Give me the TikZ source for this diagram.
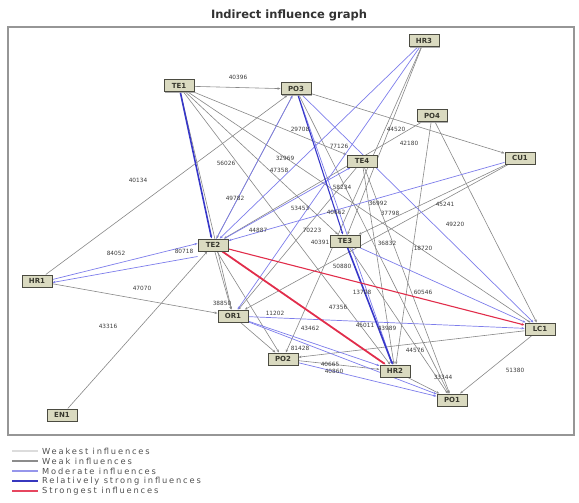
\documentclass[tikz,border=0pt]{standalone}
\usepackage{fontspec}
\setmainfont{DejaVu Sans}
\newfontfamily\legfont[LetterSpace=22]{DejaVu Sans}
\usetikzlibrary{shadows,arrows.meta}
\pgfdeclarelayer{bg}
\pgfsetlayers{bg,main}
\definecolor{nodeborder}{RGB}{75,75,65}
\definecolor{nodefill}{RGB}{218,218,192}
\definecolor{nodetext}{RGB}{55,55,45}
\definecolor{lbltext}{RGB}{60,60,60}
\definecolor{titletext}{RGB}{50,50,50}
\definecolor{framec}{RGB}{150,150,150}
\definecolor{weakc}{RGB}{135,135,135}
\definecolor{moderc}{RGB}{125,125,235}
\definecolor{rstrongc}{RGB}{55,55,200}
\definecolor{strongestc}{RGB}{225,45,75}
\definecolor{legweakest}{RGB}{220,220,220}
\definecolor{legweak}{RGB}{140,140,140}
\definecolor{legmoder}{RGB}{150,150,235}
\definecolor{legrstrong}{RGB}{55,55,190}
\definecolor{legstrongest}{RGB}{230,70,95}
\definecolor{legtextc}{RGB}{80,80,80}
\begin{document}
\begin{tikzpicture}[x=1pt,y=-1pt,
 vnode/.style={draw=nodeborder, line width=1pt, fill=nodefill,
   font=\bfseries\fontsize{7}{7}\selectfont, text=nodetext,
   minimum width=30pt, minimum height=12pt, inner sep=1pt,
   drop shadow={shadow xshift=1.3pt, shadow yshift=-1.3pt, fill=gray!80, opacity=0.8}},
 lbl/.style={font=\fontsize{5.8}{6}\selectfont, text=lbltext, inner sep=0.5pt},
 tip/.style={-{Stealth[length=3pt,width=2.4pt]}},
 weak/.style={tip, draw=weakc, line width=0.6pt},
 moder/.style={tip, draw=moderc, line width=0.7pt},
 rstrong/.style={tip, draw=rstrongc, line width=1.6pt},
 strongest/.style={tip, draw=strongestc, line width=1.1pt},
 legline/.style={line width=1.2pt},
 legtext/.style={anchor=west, font=\legfont\fontsize{8.3}{8.5}\selectfont, text=legtextc, inner sep=0pt},
]
\useasboundingbox (0,0) rectangle (579,503);

% title and frame
\node[font=\bfseries\fontsize{11.5}{12}\selectfont, text=titletext] (title) at (289,15) {Indirect influence graph};
\draw[draw=framec, line width=1.3pt] (8,27) rectangle (574,435);

% variables
\node[vnode] (TE1) at (179,86) {TE1};
\node[vnode] (PO3) at (296,89) {PO3};
\node[vnode] (HR3) at (424,41) {HR3};
\node[vnode] (PO4) at (432,116) {PO4};
\node[vnode] (CU1) at (520,158) {CU1};
\node[vnode] (TE4) at (362,161) {TE4};
\node[vnode] (TE3) at (345,241) {TE3};
\node[vnode] (TE2) at (213,245) {TE2};
\node[vnode] (HR1) at (37,281) {HR1};
\node[vnode] (OR1) at (233,316) {OR1};
\node[vnode] (PO2) at (283,359) {PO2};
\node[vnode] (EN1) at (62,415) {EN1};
\node[vnode] (LC1) at (540,329) {LC1};
\node[vnode] (HR2) at (395,371) {HR2};
\node[vnode] (PO1) at (452,400) {PO1};

\begin{pgfonlayer}{bg}
% weak influences
\draw[weak] (TE1) -- (PO3);
\draw[weak] (TE1) -- (TE3);
\draw[weak] (TE1) -- (HR2);
\draw[weak] (TE1) -- (LC1);
\draw[weak] (TE1) -- (TE4);
\draw[weak] (PO3) -- (TE2);
\draw[weak] (HR1) -- (PO3);
\draw[weak] (PO3) -- (CU1);
\draw[weak] (PO3) -- (PO1);
\draw[weak] (HR1) -- (OR1);
\draw[weak] (EN1) -- (TE2);
\draw[weak] (HR3) -- (TE3);
\draw[weak] (HR3) -- (PO2);
\draw[weak] (PO4) -- (HR2);
\draw[weak] (PO4) -- (LC1);
\draw[weak] (PO4) -- (TE2);
\draw[weak] (CU1) -- (OR1);
\draw[weak] (CU1) -- (TE3);
\draw[weak] (LC1) -- (PO1);
\draw[weak] (LC1) -- (PO2);
\draw[weak] (TE4) -- (PO1);
\draw[weak] (TE4) -- (HR2);
\draw[weak] (TE4) -- (OR1);
\draw[weak] (TE2) -- (OR1);
\draw[weak] (TE2) -- (PO2);
\draw[weak] (OR1) -- (PO2);
\draw[weak] (PO2) -- (HR2);
\draw[weak] (HR2) -- (PO1);
\draw[weak] (TE3) -- (PO1);
\draw[weak] (TE1) -- (OR1);
% moderate influences
\draw[moder] ([yshift=1.5pt]HR1.east) -- ([yshift=1.5pt]TE2.west);
\draw[moder] ([yshift=-5pt]TE2.south west) -- ([yshift=-1.5pt]HR1.east);
\draw[moder] (CU1) -- (TE2);
\draw[moder] (HR3) -- (TE2);
\draw[moder] (HR3) -- (OR1);
\draw[moder] (PO3) -- (LC1);
\draw[moder] (PO3) -- (HR2);
\draw[moder] (OR1) -- (LC1);
\draw[moder] (OR1) -- (HR2);
\draw[moder] (TE2) -- (TE4);
\draw[moder] (OR1) -- (PO1);
\draw[moder] (TE3) -- (LC1);
\draw[moder] (TE2) -- (PO3);
\draw[moder] (PO2) -- (PO1);
% relatively strong influences
\draw[rstrong] (TE1) -- (TE2);
\draw[rstrong] (TE3) -- (HR2);
\draw[rstrong, line width=1.1pt] (PO3) -- (TE3);
% strongest influences
\draw[strongest] (TE2) -- (LC1);
\draw[strongest, line width=1.8pt] (TE2) -- (HR2);
\end{pgfonlayer}

% influence values
\node[lbl] (l1) at (238,77) {40396};
\node[lbl] (l2) at (138,180) {40134};
\node[lbl] (l3) at (226,163) {56026};
\node[lbl] (l4) at (235,198) {49782};
\node[lbl] (l5) at (300,129) {29708};
\node[lbl] (l6) at (285,158) {32969};
\node[lbl] (l7) at (279,170) {47358};
\node[lbl] (l8) at (339,146) {77126};
\node[lbl] (l9) at (396,129) {44520};
\node[lbl] (l10) at (409,143) {42180};
\node[lbl] (l11) at (258,230) {44887};
\node[lbl] (l12) at (300,208) {53453};
\node[lbl] (l13) at (342,187) {58234};
\node[lbl] (l14) at (378,203) {36992};
\node[lbl] (l15) at (390,213) {37798};
\node[lbl] (l16) at (445,204) {45241};
\node[lbl] (l17) at (455,224) {49220};
\node[lbl] (l18) at (336,212) {40662};
\node[lbl] (l19) at (312,230) {70223};
\node[lbl] (l20) at (320,242) {40391};
\node[lbl] (l21) at (387,243) {36832};
\node[lbl] (l22) at (423,248) {18720};
\node[lbl] (l23) at (342,266) {50880};
\node[lbl] (l24) at (362,292) {13708};
\node[lbl] (l25) at (423,292) {60546};
\node[lbl] (l26) at (338,307) {47356};
\node[lbl] (l27) at (365,325) {45011};
\node[lbl] (l28) at (387,328) {43989};
\node[lbl] (l29) at (310,328) {43462};
\node[lbl] (l30) at (415,350) {44576};
\node[lbl] (l31) at (515,370) {51380};
\node[lbl] (l32) at (443,377) {33344};
\node[lbl] (l33) at (300,348) {81428};
\node[lbl] (l34) at (330,364) {40665};
\node[lbl] (l35) at (334,371) {40860};
\node[lbl] (l36) at (222,303) {38850};
\node[lbl] (l37) at (275,313) {11202};
\node[lbl] (l38) at (116,253) {84052};
\node[lbl] (l39) at (184,251) {80718};
\node[lbl] (l40) at (142,288) {47070};
\node[lbl] (l41) at (108,326) {43316};

% legend
\draw[legline, draw=legweakest] (12,451) -- (38,451);
\draw[legline, draw=legweak] (12,461) -- (38,461);
\draw[legline, draw=legmoder] (12,471) -- (38,471);
\draw[legline, draw=legrstrong] (12,481) -- (38,481);
\draw[legline, draw=legstrongest] (12,491) -- (38,491);
\node[legtext] (g1) at (42,451) {Weakest influences};
\node[legtext] (g2) at (42,461) {Weak influences};
\node[legtext] (g3) at (42,471) {Moderate influences};
\node[legtext] (g4) at (42,481) {Relatively strong influences};
\node[legtext] (g5) at (42,491) {Strongest influences};
\end{tikzpicture}
\end{document}
